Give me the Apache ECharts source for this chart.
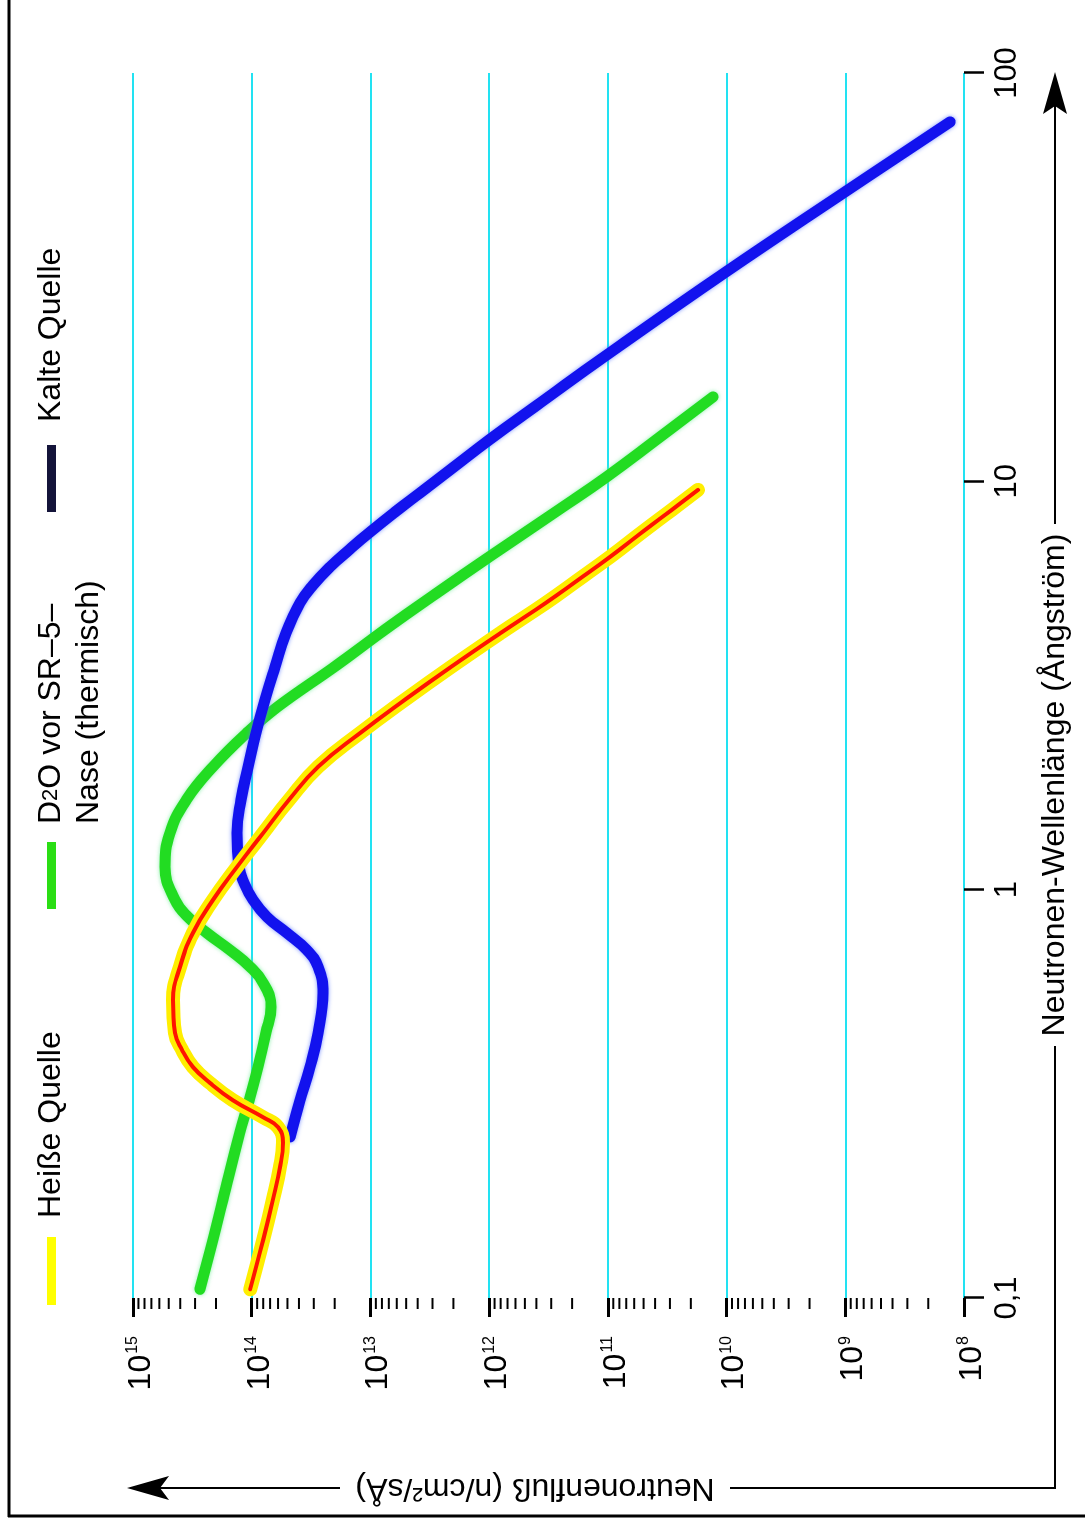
<!DOCTYPE html>
<html>
<head>
<meta charset="utf-8">
<script src="https://cdn.jsdelivr.net/npm/echarts@6/dist/echarts.min.js"></script>
<style>
  html, body { margin: 0; padding: 0; background: #fff; }
  body { width: 1085px; height: 1524px; overflow: hidden; position: relative; }
  /* the plot is laid out landscape and turned a quarter turn counter-clockwise */
  #chart {
    position: absolute; left: 0; top: 0;
    width: 1524px; height: 1085px;
    transform-origin: 0 0;
    transform: translateY(1524px) rotate(-90deg);
  }
</style>
</head>
<body>
<div id="chart"></div>
<script>
// Wavelength axis (Ångström) tick labels, one per decade from 0.1 to 100
const lambdaTickLabels = ['0,1', '1', '10', '100'];
// Flux axis decades (exponents of ten) and minor tick multipliers
const fluxDecades = [8, 9, 10, 11, 12, 13, 14];
const minorMultipliers = [2, 3, 4, 5, 6, 7, 8, 9];

// Heiße Quelle
const heisseLambda = [0.105, 0.139, 0.174, 0.209, 0.240, 0.262, 0.277, 0.305, 0.336, 0.368, 0.405, 0.446, 0.537, 0.647, 0.783, 0.944, 1.137, 1.377, 1.66, 2.0, 2.42, 2.92, 3.51, 4.26, 5.04, 5.73, 6.53, 7.60, 8.51, 9.53];
const heisseFlux = [1.03e14, 8.0e13, 6.63e13, 5.78e13, 5.45e13, 6.0e13, 8.0e13, 1.44e14, 2.24e14, 3.13e14, 3.86e14, 4.43e14, 4.6e14, 4.02e14, 3.13e14, 2.12e14, 1.33e14, 8.0e13, 4.85e13, 2.76e13, 1.22e13, 5.11e12, 2.10e12, 7.94e11, 3.32e11, 1.79e11, 9.6e10, 4.87e10, 2.9e10, 1.74e10];

// D2O vor SR-5-Nase (thermisch)
const d2oLambda = [0.105, 0.139, 0.174, 0.254, 0.305, 0.368, 0.446, 0.516, 0.591, 0.647, 0.711, 0.783, 0.857, 0.944, 1.137, 1.377, 1.66, 2.0, 2.42, 2.80, 3.55, 4.37, 5.33, 6.53, 8.56, 10.26, 12.85, 16.1];
const d2oFlux = [2.73e14, 2.12e14, 1.75e14, 1.26e14, 1.05e14, 8.85e13, 7.59e13, 6.87e13, 8.0e13, 1.03e14, 1.52e14, 2.38e14, 3.44e14, 4.43e14, 5.37e14, 4.88e14, 3.55e14, 2.12e14, 1.10e14, 6.1e13, 1.91e13, 7.24e12, 2.75e12, 1.0e12, 2.53e11, 1.02e11, 3.63e10, 1.30e10];

// Kalte Quelle
const kalteLambda = [0.248, 0.305, 0.368, 0.446, 0.558, 0.647, 0.711, 0.783, 0.857, 0.944, 1.039, 1.137, 1.377, 1.66, 2.0, 2.42, 2.92, 3.51, 4.26, 5.04, 5.57, 6.17, 6.82, 7.51, 8.41, 9.37, 10.67, 12.63, 15.56, 20.4, 32.6, 51.2, 75.9];
const kalteFlux = [4.75e13, 3.92e13, 3.23e13, 2.76e13, 2.51e13, 2.76e13, 3.42e13, 5.05e13, 7.43e13, 9.75e13, 1.16e14, 1.28e14, 1.33e14, 1.23e14, 1.07e14, 9.2e13, 7.73e13, 6.37e13, 5.14e13, 3.92e13, 3.05e13, 2.19e13, 1.49e13, 1.01e13, 6.21e12, 3.82e12, 2.13e12, 1.0e12, 3.72e11, 1.02e11, 1.01e10, 1.0e9, 1.31e8];

const FONT = "'Liberation Sans', Arial, Helvetica, sans-serif";
const LAMBDA_MIN = 0.1, LAMBDA_MAX = 100;
const FLUX_MIN = 1e8, FLUX_MAX = 1e15;

const pairs = (xs, ys) => xs.map((x, i) => [x, ys[i]]);
const minorTickValues = [];
fluxDecades.forEach(d => minorMultipliers.forEach(m => minorTickValues.push([LAMBDA_MIN, m * Math.pow(10, d)])));

const chart = echarts.init(document.getElementById('chart'), null, { renderer: 'canvas' });

const lineBase = { type: 'line', showSymbol: false, symbol: 'none', smooth: 0.45, silent: true, animation: false };

const option = {
  animation: false,
  backgroundColor: '#ffffff',
  grid: { left: 226, top: 133, width: 1225, height: 831, containLabel: false, outerBoundsMode: 'none' },
  xAxis: {
    type: 'log', logBase: 10, min: LAMBDA_MIN, max: LAMBDA_MAX, interval: 1,
    position: 'bottom',
    axisLine: { show: false },
    axisTick: { show: true, inside: false, length: 20, lineStyle: { color: '#000', width: 2.5 } },
    minorTick: { show: false },
    splitLine: { show: false },
    axisLabel: {
      margin: 28, color: '#000', fontSize: 31, fontFamily: FONT,
      formatter: v => lambdaTickLabels[Math.round(Math.log10(v)) + 1]
    }
  },
  yAxis: {
    type: 'log', logBase: 10, min: FLUX_MIN, max: FLUX_MAX, interval: 1,
    position: 'left',
    axisLine: { show: false },
    axisTick: { show: true, inside: false, length: 19, lineStyle: { color: '#000', width: 3 } },
    minorTick: { show: false },
    splitLine: { show: true, lineStyle: { color: '#22e2f2', width: 2 } },
    axisLabel: {
      margin: 38, color: '#000', fontFamily: FONT, padding: [16, 0, 0, 0],
      formatter: v => '{b|10}{s|' + Math.round(Math.log10(v)) + '}',
      rich: {
        b: { fontSize: 32, lineHeight: 32, fontFamily: FONT, color: '#000' },
        s: { fontSize: 16, verticalAlign: 'top', fontFamily: FONT, color: '#000', padding: [0, 0, 0, 1] }
      }
    }
  },
  series: [
    {
      // log minor ticks on the flux axis
      type: 'custom', coordinateSystem: 'cartesian2d', clip: false, silent: true,
      data: minorTickValues,
      renderItem: (params, api) => {
        const p = api.coord([api.value(0), api.value(1)]);
        return { type: 'line', shape: { x1: p[0] - 11, y1: p[1], x2: p[0], y2: p[1] }, style: { stroke: '#000', lineWidth: 2 } };
      }
    },
    Object.assign({}, lineBase, {
      name: 'D2O vor SR-5-Nase (thermisch)', z: 3,
      data: pairs(d2oLambda, d2oFlux),
      lineStyle: { color: '#22dc22', width: 11, cap: 'round', join: 'round', shadowBlur: 4, shadowColor: 'rgba(110,235,150,0.8)' }
    }),
    Object.assign({}, lineBase, {
      name: 'Kalte Quelle', z: 4,
      data: pairs(kalteLambda, kalteFlux),
      lineStyle: { color: '#1212ee', width: 11, cap: 'round', join: 'round', shadowBlur: 4, shadowColor: 'rgba(90,120,255,0.8)' }
    }),
    Object.assign({}, lineBase, {
      name: 'Heiße Quelle', z: 5,
      data: pairs(heisseLambda, heisseFlux),
      lineStyle: { color: '#ffee00', width: 14, cap: 'round', join: 'round' }
    }),
    Object.assign({}, lineBase, {
      name: 'Heiße Quelle (Kern)', z: 6,
      data: pairs(heisseLambda, heisseFlux),
      lineStyle: { color: '#ff1400', width: 4, cap: 'round', join: 'round' }
    })
  ],
  graphic: [
    // outer frame
    { type: 'line', shape: { x1: 7, y1: 9, x2: 1524, y2: 9 }, style: { stroke: '#000', lineWidth: 3 } },
    { type: 'line', shape: { x1: 8, y1: 8, x2: 8, y2: 1085 }, style: { stroke: '#000', lineWidth: 3 } },

    // flux axis arrow with title
    { type: 'line', shape: { x1: 36, y1: 1056, x2: 36, y2: 730 }, style: { stroke: '#000', lineWidth: 2 } },
    { type: 'line', shape: { x1: 36, y1: 340, x2: 36, y2: 158 }, style: { stroke: '#000', lineWidth: 2 } },
    { type: 'polygon', shape: { points: [[36, 127], [24, 169], [36, 160], [48, 169]] }, style: { fill: '#000' } },
    {
      type: 'text', x: 36, y: 535, rotation: Math.PI / 2,
      style: { text: 'Neutronenfluß (n/cm²/sÅ)', align: 'center', verticalAlign: 'middle', fontSize: 32, fontFamily: FONT, fill: '#000' }
    },

    // wavelength axis arrow with title
    { type: 'line', shape: { x1: 35, y1: 1055, x2: 478, y2: 1055 }, style: { stroke: '#000', lineWidth: 2 } },
    { type: 'line', shape: { x1: 1000, y1: 1055, x2: 1418, y2: 1055 }, style: { stroke: '#000', lineWidth: 2 } },
    { type: 'polygon', shape: { points: [[1452, 1055], [1410, 1043], [1418, 1055], [1410, 1067]] }, style: { fill: '#000' } },
    {
      type: 'text', x: 739, y: 1055,
      style: { text: 'Neutronen-Wellenlänge (Ångström)', align: 'center', verticalAlign: 'middle', fontSize: 32, fontFamily: FONT, fill: '#000' }
    },

    // legend
    { type: 'rect', shape: { x: 219, y: 47, width: 68, height: 9 }, style: { fill: '#ffff00' } },
    { type: 'text', x: 306, y: 51, style: { text: 'Heiße Quelle', align: 'left', verticalAlign: 'middle', fontSize: 32, fontFamily: FONT, fill: '#000' } },
    { type: 'rect', shape: { x: 615, y: 47, width: 67, height: 9 }, style: { fill: '#2ade14' } },
    {
      type: 'text', x: 700, y: 51,
      style: {
        text: '{a|D}{s|2}{a|O vor SR–5–}', align: 'left', verticalAlign: 'middle', fill: '#000',
        rich: {
          a: { fontSize: 32, fontFamily: FONT, fill: '#000' },
          s: { fontSize: 22, fontFamily: FONT, fill: '#000' }
        }
      }
    },
    { type: 'text', x: 700, y: 89, style: { text: 'Nase (thermisch)', align: 'left', verticalAlign: 'middle', fontSize: 32, fontFamily: FONT, fill: '#000' } },
    { type: 'rect', shape: { x: 1012, y: 47, width: 67, height: 9 }, style: { fill: '#14143a' } },
    { type: 'text', x: 1102, y: 51, style: { text: 'Kalte Quelle', align: 'left', verticalAlign: 'middle', fontSize: 32, fontFamily: FONT, fill: '#000' } }
  ]
};

chart.setOption(option);
</script>
</body>
</html>
